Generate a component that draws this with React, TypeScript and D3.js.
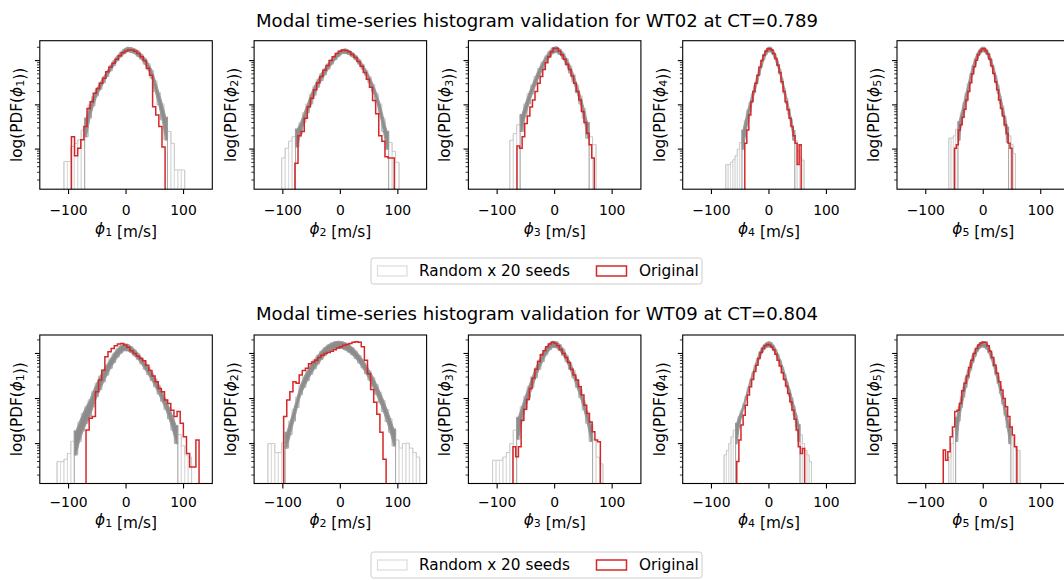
import React from "react";
import * as d3 from "d3";

// ---------------- data ----------------
const xDomain = [-150, 150];
const xTicks = [-100, 0, 100];
const rowTitles = [
  "Modal time-series histogram validation for WT02 at CT=0.789",
  "Modal time-series histogram validation for WT09 at CT=0.804",
];
const modeNumbers = [1, 2, 3, 4, 5];
const legendLabels = ["Random x 20 seeds", "Original"];
// log10(PDF) limits of the y axis, per row
const rowYDomainLog = [
  [-4.906, -1.55],
  [-4.886, -1.59],
];

// Each histogram: first bin edge, bin width, log10(PDF) per bin (null = empty bin)
// Seeds: envelope over the 20 random seeds, upper (hi) and lower (lo) log10(PDF); lo null = only a few seeds reach that bin
const wt02Phi1Orig = { start: -95, width: 5.43, log: [-3.72, -4.15, -3.98, -3.79, -3.49, -3.08, -2.93, -2.74, -2.63, -2.51, -2.40, -2.25, -2.15, -2.06, -1.97, -1.89, -1.82, -1.78, -1.76, -1.76, -1.79, -1.84, -1.91, -2.00, -2.17, -2.33, -3.04, -3.23, -3.49, -3.95] };
const wt02Phi1Seeds = {
  start: -108, width: 6,
  hi: [-4.28, -4.28, -3.94, -3.87, -3.79, -3.57, -3.30, -3.00, -2.81, -2.64, -2.50, -2.37, -2.24, -2.11, -2.00, -1.90, -1.81, -1.74, -1.70, -1.71, -1.74, -1.78, -1.86, -1.95, -2.07, -2.22, -2.46, -2.72, -2.98, -3.28, -3.60, -3.87, -4.47, -4.47, -4.47],
  lo: [null, null, null, null, null, null, -3.72, -3.30, -3.02, -2.80, -2.65, -2.50, -2.36, -2.23, -2.11, -2.00, -1.91, -1.84, -1.79, -1.81, -1.84, -1.90, -1.97, -2.08, -2.21, -2.40, -2.70, -3.00, -3.34, -3.79, null, null, null, null, null],
};

const wt02Phi2Orig = { start: -79, width: 5.4, log: [-4.32, -3.70, -3.60, -3.30, -3.04, -2.85, -2.66, -2.50, -2.36, -2.22, -2.11, -2.00, -1.91, -1.84, -1.79, -1.76, -1.77, -1.80, -1.86, -1.93, -2.02, -2.13, -2.27, -2.42, -2.60, -2.90, -3.20, -3.70, -3.82, -4.17, -4.20, -4.20] };
const wt02Phi2Seeds = {
  start: -108, width: 6,
  hi: [null, -4.20, -3.98, -3.82, -3.72, -3.55, -3.40, -3.18, -2.98, -2.76, -2.58, -2.43, -2.29, -2.18, -2.07, -1.97, -1.88, -1.80, -1.75, -1.74, -1.77, -1.82, -1.89, -1.98, -2.09, -2.22, -2.37, -2.54, -2.74, -2.98, -3.30, -3.60, -3.85, -4.05, -4.30, null],
  lo: [null, null, null, null, null, -3.95, -3.65, -3.40, -3.18, -2.98, -2.78, -2.60, -2.45, -2.32, -2.19, -2.08, -1.98, -1.90, -1.84, -1.83, -1.86, -1.91, -1.98, -2.08, -2.19, -2.33, -2.50, -2.70, -2.92, -3.22, -3.60, -4.00, null, null, null, null],
};

const wt02Phi3Orig = { start: -65.5, width: 4.48, log: [-3.93, -3.98, -3.72, -3.42, -3.25, -3.05, -2.89, -2.70, -2.51, -2.36, -2.20, -2.05, -1.91, -1.80, -1.72, -1.72, -1.78, -1.87, -1.97, -2.08, -2.20, -2.35, -2.51, -2.70, -2.89, -3.15, -3.40, -3.64, -3.90, -4.20] };
const wt02Phi3Seeds = {
  start: -84, width: 6,
  hi: [null, -3.80, -3.65, -3.45, -3.22, -2.98, -2.75, -2.55, -2.36, -2.18, -2.03, -1.90, -1.79, -1.71, -1.69, -1.74, -1.83, -1.96, -2.12, -2.32, -2.55, -2.80, -3.08, -3.40, -3.72, -3.90, null, null],
  lo: [null, null, null, null, -3.60, -3.25, -2.98, -2.75, -2.55, -2.36, -2.19, -2.04, -1.92, -1.83, -1.81, -1.86, -1.96, -2.10, -2.28, -2.48, -2.72, -2.98, -3.30, -3.75, null, null, null, null],
};

const wt02Phi4Orig = { start: -42, width: 3.5, log: [-3.87, -3.57, -3.23, -2.93, -2.70, -2.51, -2.33, -2.15, -2.00, -1.88, -1.79, -1.74, -1.73, -1.76, -1.84, -1.95, -2.10, -2.27, -2.48, -2.70, -2.93, -3.11, -3.30, -3.49, -3.70, -3.87, -4.35, -3.90] };
const wt02Phi4Seeds = {
  start: -75, width: 4,
  hi: [-4.35, -4.35, -4.30, -4.24, -4.15, -4.00, -3.85, -3.57, -3.35, -3.12, -2.95, -2.75, -2.56, -2.40, -2.20, -2.02, -1.86, -1.76, -1.70, -1.70, -1.76, -1.86, -2.00, -2.18, -2.40, -2.62, -2.85, -3.08, -3.32, -3.58, -3.80, -4.05, -4.20, -4.25, null, null],
  lo: [null, null, null, null, null, null, null, -4.00, -3.70, -3.40, -3.15, -2.92, -2.72, -2.52, -2.33, -2.14, -1.98, -1.86, -1.80, -1.80, -1.86, -1.97, -2.12, -2.30, -2.52, -2.75, -2.98, -3.22, -3.48, -3.80, null, null, null, null, null, null],
};

const wt02Phi5Orig = { start: -50, width: 3.33, log: [-3.98, -3.90, -3.57, -3.45, -3.28, -3.10, -2.89, -2.70, -2.50, -2.30, -2.14, -1.99, -1.87, -1.79, -1.74, -1.73, -1.78, -1.85, -1.97, -2.12, -2.29, -2.48, -2.66, -2.89, -3.08, -3.25, -3.45, -3.65, -3.87, -3.98] };
const wt02Phi5Seeds = {
  start: -60, width: 4,
  hi: [-3.75, -3.75, -3.70, -3.55, -3.38, -3.18, -2.96, -2.74, -2.52, -2.30, -2.11, -1.95, -1.83, -1.75, -1.70, -1.70, -1.75, -1.84, -1.97, -2.14, -2.34, -2.56, -2.80, -3.03, -3.27, -3.50, -3.70, -3.90, -4.10, null],
  lo: [null, null, null, null, -3.80, -3.45, -3.18, -2.94, -2.71, -2.48, -2.27, -2.09, -1.95, -1.85, -1.80, -1.80, -1.85, -1.95, -2.10, -2.29, -2.50, -2.74, -2.98, -3.22, -3.48, -3.85, null, null, null, null],
};

const wt09Phi1Orig = { start: -69.6, width: 5.46, log: [-3.70, -3.44, -3.40, -2.85, -2.59, -2.37, -2.07, -1.96, -1.89, -1.83, -1.79, -1.78, -1.81, -1.86, -1.94, -2.00, -2.06, -2.11, -2.16, -2.26, -2.38, -2.50, -2.63, -2.78, -2.85, -3.03, -3.11, -3.26, -3.40, -3.29, -3.55, -3.85, -4.22, -4.52, -4.52, -3.92] };
const wt09Phi1Seeds = {
  start: -126, width: 6,
  hi: [null, -4.40, -4.40, -4.35, -4.22, -3.95, -3.72, -3.52, -3.33, -3.18, -3.03, -2.84, -2.66, -2.50, -2.37, -2.25, -2.12, -2.00, -1.90, -1.83, -1.79, -1.80, -1.85, -1.92, -2.00, -2.10, -2.20, -2.31, -2.43, -2.56, -2.70, -2.86, -3.02, -3.20, -3.40, -3.60, -3.80, -4.05, -4.25, -4.30, null, null],
  lo: [null, null, null, null, null, null, -4.25, -3.95, -3.72, -3.55, -3.40, -3.18, -2.96, -2.80, -2.63, -2.48, -2.33, -2.20, -2.08, -1.99, -1.93, -1.94, -1.98, -2.05, -2.13, -2.23, -2.35, -2.47, -2.60, -2.74, -2.90, -3.06, -3.24, -3.45, -3.70, -4.00, null, null, null, null, null, null],
};

const wt09Phi2Orig = { start: -98.6, width: 5.4, log: [-3.40, -3.03, -2.85, -2.63, -2.66, -2.48, -2.38, -2.33, -2.23, -2.19, -2.15, -2.09, -2.04, -2.00, -1.98, -1.95, -1.92, -1.88, -1.85, -1.82, -1.80, -1.78, -1.75, -1.74, -1.75, -1.85, -2.15, -2.45, -2.80, -3.08, -3.35, -3.75, -4.35] };
const wt09Phi2Seeds = {
  start: -126, width: 6,
  hi: [-4.00, -4.00, -4.20, -4.20, -3.98, -3.75, -3.50, -3.24, -2.97, -2.70, -2.52, -2.38, -2.25, -2.14, -2.04, -1.95, -1.87, -1.81, -1.77, -1.74, -1.73, -1.74, -1.77, -1.81, -1.87, -1.95, -2.04, -2.14, -2.26, -2.39, -2.53, -2.69, -2.86, -3.04, -3.24, -3.45, -3.68, -3.92, -4.10, -4.00, -3.99, -4.10, -4.20, -4.30],
  lo: [null, null, null, null, null, -4.10, -3.80, -3.50, -3.20, -2.92, -2.75, -2.60, -2.46, -2.34, -2.23, -2.13, -2.04, -1.97, -1.92, -1.89, -1.88, -1.89, -1.92, -1.97, -2.03, -2.11, -2.21, -2.32, -2.45, -2.59, -2.74, -2.91, -3.09, -3.29, -3.51, -3.75, -4.05, null, null, null, null, null, null, null],
};

const wt09Phi3Orig = { start: -72.5, width: 4.75, log: [-4.07, -4.29, -4.07, -3.48, -3.24, -3.02, -2.78, -2.55, -2.35, -2.18, -2.03, -1.94, -1.85, -1.79, -1.75, -1.78, -1.83, -1.91, -2.00, -2.09, -2.20, -2.35, -2.48, -2.59, -2.74, -2.92, -3.15, -3.33, -3.52, -3.74, -3.92, -3.96] };
const wt09Phi3Seeds = {
  start: -108, width: 6,
  hi: [-4.37, -4.37, -4.37, -4.30, -4.20, -4.00, -3.70, -3.42, -3.18, -2.95, -2.73, -2.52, -2.33, -2.15, -2.00, -1.87, -1.78, -1.73, -1.74, -1.80, -1.90, -2.04, -2.20, -2.38, -2.58, -2.80, -3.05, -3.30, -3.58, -3.90, -4.30, -4.45, null, null],
  lo: [null, null, null, null, null, null, null, -3.90, -3.50, -3.22, -2.98, -2.75, -2.54, -2.35, -2.18, -2.03, -1.92, -1.86, -1.87, -1.93, -2.04, -2.18, -2.35, -2.54, -2.75, -2.98, -3.25, -3.55, -3.95, null, null, null, null, null],
};

const wt09Phi4Orig = { start: -56, width: 3.69, log: [-4.40, -3.92, -3.59, -3.37, -3.15, -2.92, -2.74, -2.58, -2.40, -2.26, -2.11, -1.98, -1.89, -1.83, -1.80, -1.81, -1.85, -1.92, -2.02, -2.15, -2.28, -2.43, -2.58, -2.72, -2.89, -3.07, -3.26, -3.46, -3.70, -4.07, -4.22, -4.11] };
const wt09Phi4Seeds = {
  start: -78, width: 4,
  hi: [-4.25, -4.15, -4.00, -3.85, -3.70, -3.55, -3.40, -3.27, -3.12, -2.95, -2.76, -2.58, -2.42, -2.26, -2.11, -1.97, -1.87, -1.80, -1.76, -1.74, -1.76, -1.82, -1.91, -2.02, -2.15, -2.30, -2.46, -2.63, -2.80, -2.98, -3.17, -3.37, -3.58, -3.80, -4.00, -4.15, -4.25, -4.40],
  lo: [null, null, null, null, null, -4.00, -3.65, -3.42, -3.22, -3.03, -2.85, -2.67, -2.51, -2.36, -2.22, -2.09, -1.98, -1.90, -1.86, -1.85, -1.87, -1.93, -2.02, -2.13, -2.27, -2.42, -2.59, -2.77, -2.95, -3.15, -3.37, -3.62, -3.95, null, null, null, null, null],
};

const wt09Phi5Orig = { start: -69.6, width: 4.0, log: [-4.14, -4.37, -4.18, -3.85, -3.63, -3.29, -3.26, -3.11, -2.83, -2.66, -2.50, -2.31, -2.15, -2.00, -1.89, -1.81, -1.77, -1.75, -1.75, -1.83, -1.95, -2.09, -2.26, -2.44, -2.63, -2.81, -3.00, -3.18, -3.40, -3.63, -3.81, -4.07] };
const wt09Phi5Seeds = {
  start: -64, width: 4,
  hi: [null, -4.30, -4.00, -3.70, -3.42, -3.18, -2.95, -2.74, -2.54, -2.36, -2.19, -2.04, -1.92, -1.83, -1.77, -1.74, -1.74, -1.78, -1.86, -1.98, -2.13, -2.31, -2.50, -2.71, -2.93, -3.15, -3.38, -3.62, -3.85, -4.05, -4.15, -4.15],
  lo: [null, null, null, null, -3.95, -3.50, -3.20, -2.97, -2.75, -2.55, -2.37, -2.20, -2.06, -1.95, -1.88, -1.85, -1.86, -1.90, -1.99, -2.12, -2.28, -2.47, -2.67, -2.89, -3.12, -3.37, -3.65, -4.00, null, null, null, null],
};

const wt02Original = [wt02Phi1Orig, wt02Phi2Orig, wt02Phi3Orig, wt02Phi4Orig, wt02Phi5Orig];
const wt02Seeds = [wt02Phi1Seeds, wt02Phi2Seeds, wt02Phi3Seeds, wt02Phi4Seeds, wt02Phi5Seeds];
const wt09Original = [wt09Phi1Orig, wt09Phi2Orig, wt09Phi3Orig, wt09Phi4Orig, wt09Phi5Orig];
const wt09Seeds = [wt09Phi1Seeds, wt09Phi2Seeds, wt09Phi3Seeds, wt09Phi4Seeds, wt09Phi5Seeds];

// ---------------- layout ----------------
const W = 1064;
const H = 580;
const PANEL_LEFT0 = 39.8;
const PANEL_STEP = 214.3;
const AX_W = 172.5;
const AX_H = 148.5;
const ROW_TOP = [40.7, 335];
const TITLE_Y = [20, 313];
const TICKLABEL_Y = [210, 502];
const XLABEL_Y = [229, 520];
const LEGEND_Y = [258, 552];
const FONT = "'DejaVu Sans', 'Liberation Sans', sans-serif";
const FS_TICK = 13.9;
const FS_LABEL = 15.3;
const FS_TITLE = 18.1;
const RED = "#d62728";

type Hist = { start: number; width: number; log: (number | null)[] };
type Seeds = { start: number; width: number; hi: (number | null)[]; lo: (number | null)[] };

function Phi({ n, fs }: { n: number; fs: number }) {
  return (
    <>
      <tspan fontStyle="italic">ϕ</tspan>
      <tspan fontSize={fs * 0.72} dy={fs * 0.22}>{n}</tspan>
      <tspan dy={-fs * 0.22}></tspan>
    </>
  );
}

function Panel({ row, col, orig, seeds }: { row: number; col: number; orig: Hist; seeds: Seeds }) {
  const left = PANEL_LEFT0 + col * PANEL_STEP;
  const top = ROW_TOP[row];
  const right = left + AX_W;
  const bottom = top + AX_H;
  const x = d3.scaleLinear().domain(xDomain).range([left, right]);
  const [dLo, dHi] = rowYDomainLog[row];
  const y = d3.scaleLog().domain([Math.pow(10, dLo), Math.pow(10, dHi)]).range([bottom, top]);
  const floorY = bottom + 4;
  const yv = (v: number | null) => (v == null ? floorY : y(Math.pow(10, v)));
  const line = d3.line();
  const step = (start: number, width: number, vals: (number | null)[]) => {
    const pts: [number, number][] = [[x(start), floorY]];
    vals.forEach((v, i) => {
      const yy = yv(v);
      pts.push([x(start + i * width), yy]);
      pts.push([x(start + (i + 1) * width), yy]);
    });
    pts.push([x(start + vals.length * width), floorY]);
    return line(pts) || "";
  };
  const clipId = `clip-${row}-${col}`;
  const edge = (i: number) => x(seeds.start + i * seeds.width);
  const center = (i: number) => x(seeds.start + (i + 0.5) * seeds.width);
  const n = modeNumbers[col];
  const yTicks = y.ticks();
  const isMajor = (t: number) => Math.abs(Math.log10(t) - Math.round(Math.log10(t))) < 1e-6;

  // contiguous runs where the bulk of the seeds is present
  const nb = seeds.hi.length;
  const runs: [number, number][] = [];
  let s = -1;
  for (let i = 0; i <= nb; i++) {
    const ok = i < nb && seeds.hi[i] != null && seeds.lo[i] != null;
    if (ok && s < 0) s = i;
    if (!ok && s >= 0) {
      runs.push([s, i - 1]);
      s = -1;
    }
  }
  // the 20 overlapping step lines blur into a band: drawn through bin centres
  const area = d3
    .area<[number, number, number]>()
    .x((d) => d[0])
    .y0((d) => d[2])
    .y1((d) => d[1])
    .curve(d3.curveLinear);
  const corePaths = runs.map(([a, b]) => {
    const pts: [number, number, number][] = [];
    pts.push([edge(a), yv(seeds.hi[a]), yv(seeds.lo[a])]);
    for (let i = a; i <= b; i++) pts.push([center(i), yv(seeds.hi[i]), yv(seeds.lo[i])]);
    pts.push([edge(b + 1), yv(seeds.hi[b]), yv(seeds.lo[b])]);
    return area(pts) || "";
  });

  return (
    <g>
      <defs>
        <clipPath id={clipId}>
          <rect x={left} y={top} width={AX_W} height={AX_H} />
        </clipPath>
      </defs>
      <g clipPath={`url(#${clipId})`}>
        {/* sparse tails: only a few seeds, faint drop lines */}
        {seeds.hi.map((h, i) =>
          h != null && seeds.lo[i] == null ? (
            <g key={`l${i}`}>
              <line x1={edge(i)} x2={edge(i)} y1={yv(h)} y2={floorY} stroke="#dcdcdc" strokeWidth={1} />
              <line x1={edge(i + 1)} x2={edge(i + 1)} y1={yv(h)} y2={floorY} stroke="#dcdcdc" strokeWidth={1} />
            </g>
          ) : null
        )}
        <path d={step(seeds.start, seeds.width, seeds.hi)} fill="none" stroke="#cacaca" strokeWidth={1} />
        <path d={step(seeds.start, seeds.width, seeds.lo)} fill="none" stroke="#a8a8a8" strokeWidth={1} />
        {/* dense core of the 20 seeds */}
        {corePaths.map((d, i) => (
          <path key={`c${i}`} d={d} fill="#8c8c8c" stroke="#9a9a9a" strokeWidth={1.2} strokeLinejoin="round" />
        ))}
        <path d={step(orig.start, orig.width, orig.log)} fill="none" stroke={RED} strokeWidth={1.5} strokeLinejoin="miter" />
      </g>
      {/* frame */}
      <rect x={left} y={top} width={AX_W} height={AX_H} fill="none" stroke="#000" strokeWidth={1.1} />
      {/* y ticks (log, no labels) */}
      {yTicks.map((t, i) => {
        const yy = y(t);
        if (yy < top - 0.1 || yy > bottom + 0.1) return null;
        const major = isMajor(t);
        return <line key={`yt${i}`} x1={left} x2={left - (major ? 4.9 : 2.8)} y1={yy} y2={yy} stroke="#000" strokeWidth={major ? 1.1 : 0.8} />;
      })}
      {/* x ticks */}
      {xTicks.map((t) => (
        <g key={`xt${t}`}>
          <line x1={x(t)} x2={x(t)} y1={bottom} y2={bottom + 4.9} stroke="#000" strokeWidth={1.1} />
          <text x={x(t)} y={TICKLABEL_Y[row]} textAnchor="middle" dominantBaseline="central" fontSize={FS_TICK} fill="#000">
            {t < 0 ? `\u2212${Math.abs(t)}` : `${t}`}
          </text>
        </g>
      ))}
      {/* x label */}
      <text x={(left + right) / 2} y={XLABEL_Y[row]} textAnchor="middle" dominantBaseline="central" fontSize={FS_LABEL} fill="#000">
        <Phi n={n} fs={FS_LABEL} />
        {" [m/s]"}
      </text>
      {/* y label */}
      <text
        transform={`translate(${left - 23},${(top + bottom) / 2}) rotate(-90)`}
        textAnchor="middle"
        dominantBaseline="central"
        fontSize={FS_LABEL}
        fill="#000"
      >
        {"log(PDF("}
        <Phi n={n} fs={FS_LABEL} />
        {"))"}
      </text>
    </g>
  );
}

function Legend({ row }: { row: number }) {
  const y0 = LEGEND_Y[row];
  const cy = y0 + 13;
  return (
    <g>
      <rect x={371} y={y0} width={331} height={26} rx={2.5} fill="#fff" stroke="#cccccc" strokeWidth={1} />
      <rect x={377.5} y={cy - 5} width={29.5} height={10} fill="none" stroke="#dcdcdc" strokeWidth={1.2} />
      <text x={419} y={cy} dominantBaseline="central" fontSize={FS_LABEL} fill="#000">{legendLabels[0]}</text>
      <rect x={596.5} y={cy - 5} width={30} height={10} fill="none" stroke={RED} strokeWidth={1.5} />
      <text x={639} y={cy} dominantBaseline="central" fontSize={FS_LABEL} fill="#000">{legendLabels[1]}</text>
    </g>
  );
}

const rows = [
  { title: rowTitles[0], orig: wt02Original, seeds: wt02Seeds },
  { title: rowTitles[1], orig: wt09Original, seeds: wt09Seeds },
];

export default function App() {
  return (
    <svg
      width={W}
      height={H}
      viewBox={`0 0 ${W} ${H}`}
      style={{ position: "absolute", left: 0, top: 0, display: "block" }}
      fontFamily={FONT}
    >
      <rect x={0} y={0} width={W} height={H} fill="#fff" />
      {rows.map((r, ri) => (
        <g key={ri}>
          <text x={537} y={TITLE_Y[ri]} textAnchor="middle" dominantBaseline="central" fontSize={FS_TITLE} fill="#000">
            {r.title}
          </text>
          {r.orig.map((o, ci) => (
            <Panel key={ci} row={ri} col={ci} orig={o as Hist} seeds={r.seeds[ci] as Seeds} />
          ))}
          <Legend row={ri} />
        </g>
      ))}
    </svg>
  );
}
